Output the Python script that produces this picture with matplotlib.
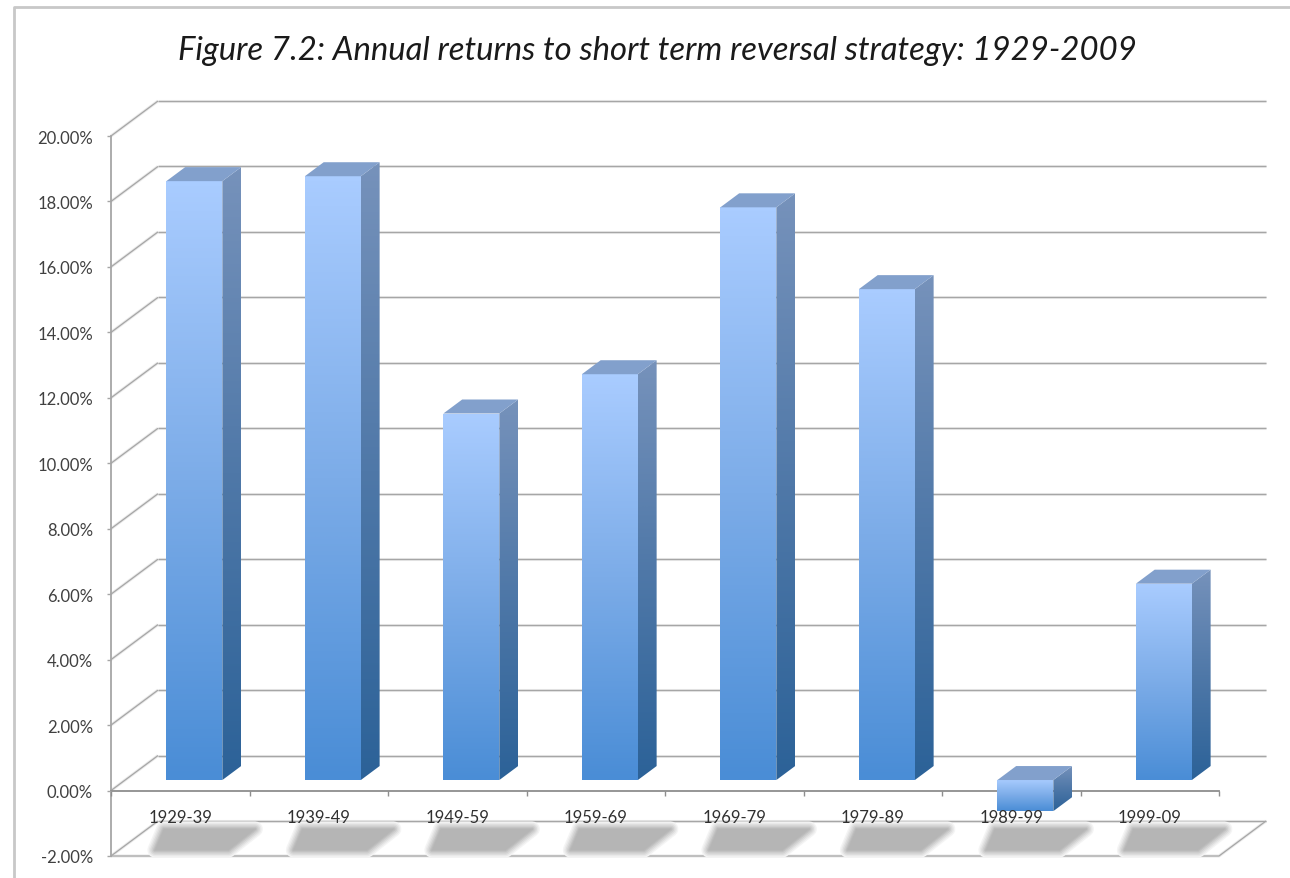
import matplotlib
matplotlib.use('Agg')
import matplotlib.pyplot as plt
import numpy as np
from matplotlib.colors import LinearSegmentedColormap
from matplotlib.lines import Line2D
from matplotlib.patches import Polygon

plt.rcParams['font.family'] = ['Lato', 'DejaVu Sans']

title = 'Figure 7.2: Annual returns to short term reversal strategy: 1929-2009'
decades = ['1929-39', '1939-49', '1949-59', '1959-69', '1969-79', '1979-89', '1989-99', '1999-09']
returns = [18.3, 18.45, 11.2, 12.4, 17.5, 15.0, -0.95, 6.0]
y_ticks = [-2, 0, 2, 4, 6, 8, 10, 12, 14, 16, 18, 20]

W, H = 1290, 879

# fake 3D: how far the back wall sits from the front plane, in data units
depth_x = 47 / 138.5
depth_y = 35 / 32.73
grid_col = '#A6A6A6'

front_cmap = LinearSegmentedColormap.from_list('front', ['#4A8DD6', '#7CACE8', '#A9CCFF'])
side_cmap = LinearSegmentedColormap.from_list('side', ['#2C6298', '#4F78A8', '#7692BB'])


def shift(x, y, d):
    return (x + d * depth_x, y + d * depth_y)


def soft_line(ax, xs, ys, color=grid_col, zorder=1):
    ax.plot(xs, ys, color='#EAEAEA', lw=2.2, zorder=zorder, clip_on=False, solid_capstyle='butt')
    ax.plot(xs, ys, color=color, lw=0.9, zorder=zorder + 0.01, clip_on=False, solid_capstyle='butt')


def grad_face(ax, pts, cmap, zorder):
    xs = [p[0] for p in pts]
    ys = [p[1] for p in pts]
    grad = np.linspace(1, 0, 128).reshape(-1, 1)
    img = ax.imshow(grad, cmap=cmap, vmin=0, vmax=1, aspect='auto', zorder=zorder,
                    extent=[min(xs), max(xs), min(ys), max(ys)], interpolation='bilinear')
    img.set_clip_path(Polygon(pts, transform=ax.transData))


def draw_bar(ax, i, val):
    d0, d1 = 0.3, 0.7
    x0 = i + 0.5 - 0.202
    x1 = i + 0.5 + 0.202
    lo, hi = min(val, 0), max(val, 0)
    z = 3 + i * 0.01
    grad_face(ax, [shift(x0, lo, d0), shift(x1, lo, d0), shift(x1, hi, d0), shift(x0, hi, d0)], front_cmap, z)
    grad_face(ax, [shift(x1, lo, d0), shift(x1, lo, d1), shift(x1, hi, d1), shift(x1, hi, d0)], side_cmap, z)
    ax.add_patch(Polygon([shift(x0, hi, d0), shift(x1, hi, d0), shift(x1, hi, d1), shift(x0, hi, d1)],
                         facecolor='#82A0CC', edgecolor='none', zorder=z))


def draw_shadow(ax, i):
    pts = [shift(i + 0.26, -2, 0.17), shift(i + 0.79, -2, 0.17),
           shift(i + 0.78, -2, 0.77), shift(i + 0.12, -2, 0.77)]
    # blurred edge, outermost first
    layers = [(11, '#F4F4F4'), (9, '#E9E9E9'), (7, '#DCDCDC'), (5, '#CFCFCF'), (3, '#C3C3C3'), (1.5, '#BABABA'), (0, '#B5B5B5')]
    for lw, col in layers:
        ax.add_patch(Polygon(pts, facecolor=col, edgecolor=col, lw=lw, joinstyle='round', zorder=2, clip_on=False))


fig = plt.figure(figsize=(W / 100, H / 100), dpi=100, facecolor='white')
ax = fig.add_axes([111 / W, (H - 857) / H, 1108 / W, 720 / H])
ax.patch.set_visible(False)

# walls and floor
for y in y_ticks:
    bx, by = shift(0, y, 1)
    soft_line(ax, [0, bx], [y, by])
    soft_line(ax, [bx, 8 + depth_x], [by, by])
fx, fy = shift(8, -2, 1)
soft_line(ax, [0, 8, fx], [-2, -2, fy])

for i, val in enumerate(returns):
    draw_shadow(ax, i)
    draw_bar(ax, i, val)

ax.set_xlim(0, 8)
ax.set_ylim(-2, 20)

for s in ['top', 'right']:
    ax.spines[s].set_visible(False)
ax.spines['left'].set_color(grid_col)
ax.spines['left'].set_linewidth(1.3)
ax.spines['bottom'].set_position(('data', 0))
ax.spines['bottom'].set_color('#8E8E8E')
ax.spines['bottom'].set_linewidth(1.3)
ax.spines['bottom'].set_zorder(1.5)
ax.spines['left'].set_zorder(1.5)

ax.set_yticks(y_ticks)
ax.set_yticklabels([f'{t:.2f}%' for t in y_ticks], fontsize=12, color='#404040')
ax.tick_params(axis='y', length=3, width=1, color=grid_col, pad=10)
ax.set_xticks(range(9))
ax.set_xticklabels([])
ax.tick_params(axis='x', which='major', length=3.5, width=1, color='#8E8E8E')
ax.set_xticks(np.arange(8) + 0.5, minor=True)
ax.set_xticklabels(decades, minor=True, fontsize=12, color='#303030')
ax.tick_params(axis='x', which='minor', length=0, pad=13)
ax.xaxis.set_zorder(5)
ax.yaxis.set_zorder(5)

fig.text(657 / W, 1 - 51 / H, title, fontsize=23.7, style='italic', color='#1A1A1A', ha='center', va='center')

# the sheet's border, left and top only
fig.add_artist(Line2D([14 / W, 14 / W, 1], [0, 1 - 8 / H, 1 - 8 / H], color='#C8C8C8', lw=2))

fig.savefig('out.png', dpi=100)
